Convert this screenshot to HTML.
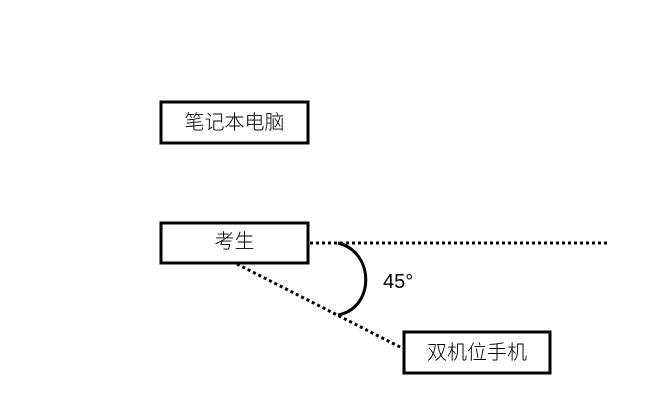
<!DOCTYPE html>
<html><head><style>
body{margin:0;width:654px;height:403px;background:#fff;overflow:hidden}
svg{position:absolute;left:0;top:0}
text{font-family:"Liberation Sans","Noto Sans CJK SC",sans-serif;font-size:20px;fill:#000;font-weight:300}
</style></head><body>
<svg width="654" height="403">
<rect x="161" y="102" width="147" height="41" fill="#fff" stroke="#000" stroke-width="3"/>
<text x="234.5" y="129" text-anchor="middle">笔记本电脑</text>
<rect x="161" y="223" width="147" height="40" fill="#fff" stroke="#000" stroke-width="3"/>
<text x="234.5" y="248" text-anchor="middle">考生</text>
<rect x="404" y="332" width="146" height="41" fill="#fff" stroke="#000" stroke-width="3"/>
<text x="477" y="359" text-anchor="middle">双机位手机</text>
<line x1="310" y1="243" x2="607" y2="243" stroke="#000" stroke-width="3" stroke-dasharray="3,3"/>
<line x1="237" y1="264" x2="402" y2="348" stroke="#000" stroke-width="3" stroke-dasharray="3,3"/>
<path d="M338 243 C375 252 375 308 338 315" fill="none" stroke="#000" stroke-width="3"/>
<text x="383" y="288" font-size="18">45°</text>
</svg>
</body></html>
